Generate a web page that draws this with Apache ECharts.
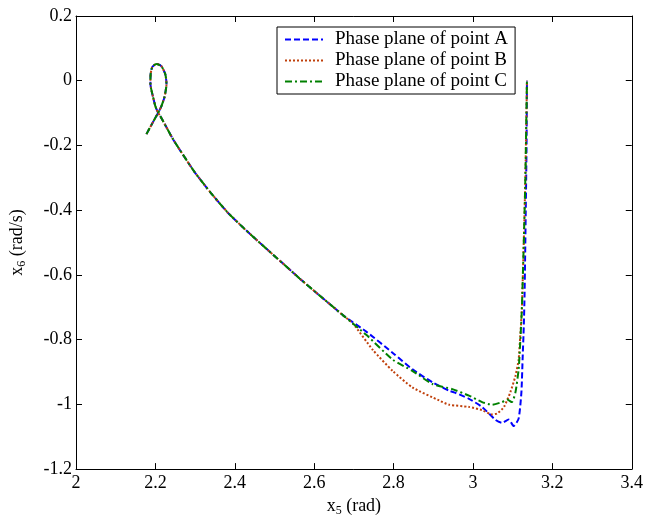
<!DOCTYPE html>
<html>
<head>
<meta charset="utf-8">
<script src="https://cdn.jsdelivr.net/npm/echarts@6/dist/echarts.min.js"></script>
<style>
html, body { margin: 0; padding: 0; background: #fff; }
#main { width: 646px; height: 522px; }
</style>
</head>
<body>
<div id="main"></div>
<script>
// shared part of the trajectory: loop and upper branch (x5, x6)
const trunk = [
  [2.1775, -0.165], [2.192, -0.132], [2.207, -0.099], [2.215, -0.079], [2.223, -0.05],
  [2.228, -0.01], [2.225, 0.02], [2.215, 0.045], [2.2025, 0.052], [2.192, 0.042],
  [2.188, 0.02], [2.1875, -0.01], [2.194, -0.05], [2.2, -0.079], [2.207, -0.099],
  [2.215, -0.115], [2.244, -0.18], [2.257, -0.205], [2.298, -0.281], [2.34, -0.347],
  [2.382, -0.407], [2.423, -0.456], [2.465, -0.503], [2.507, -0.549], [2.548, -0.594],
  [2.565, -0.613], [2.615, -0.665], [2.648, -0.699], [2.673, -0.725]
];
// where the three points differ
const tailA = [
  [2.732, -0.776], [2.798, -0.841], [2.848, -0.892], [2.898, -0.932], [2.94, -0.958],
  [2.957, -0.965], [2.99, -0.983], [3.023, -1.008], [3.057, -1.048], [3.073, -1.057],
  [3.09, -1.047], [3.1025, -1.067], [3.115, -1.044], [3.122, -0.963], [3.125, -0.862],
  [3.128, -0.76], [3.13, -0.66], [3.133, -0.4], [3.135, -0.2], [3.136, 0]
];
const tailB = [
  [2.698, -0.751], [2.748, -0.832], [2.798, -0.897], [2.848, -0.948], [2.915, -0.988],
  [2.94, -1.001], [2.99, -1.008], [3.023, -1.018], [3.048, -1.031], [3.061, -1.028],
  [3.078, -1.008], [3.094, -0.963], [3.107, -0.912], [3.115, -0.862], [3.119, -0.791],
  [3.123, -0.71], [3.128, -0.5], [3.132, -0.3], [3.136, 0]
];
const tailC = [
  [2.732, -0.786], [2.798, -0.862], [2.848, -0.897], [2.898, -0.937], [2.948, -0.953],
  [2.99, -0.973], [3.023, -0.993], [3.048, -1.001], [3.073, -0.993], [3.086, -0.985],
  [3.098, -0.993], [3.107, -0.963], [3.115, -0.892], [3.119, -0.81], [3.123, -0.71],
  [3.128, -0.5], [3.132, -0.3], [3.136, 0]
];
const seriesNames = ['Phase plane of point A', 'Phase plane of point B', 'Phase plane of point C'];

const font = 'Liberation Serif';
const myChart = echarts.init(document.getElementById('main'));

const frameAxis = {
  type: 'value',
  axisLine: { show: true, onZero: false, lineStyle: { color: '#000', width: 1 } },
  axisTick: { show: true, inside: true, length: 6, lineStyle: { color: '#000' } },
  splitLine: { show: false },
  axisLabel: { show: false }
};

const option = {
  animation: false,
  backgroundColor: '#fff',
  grid: { left: 74, right: 12, top: 16, bottom: 43, containLabel: false },
  legend: {
    data: seriesNames,
    orient: 'vertical',
    left: 277,
    top: 27,
    padding: [3, 7, 3, 7],
    itemGap: 2,
    itemWidth: 38,
    itemHeight: 18,
    borderColor: '#000',
    borderWidth: 1,
    backgroundColor: '#fff',
    itemStyle: { opacity: 0 },
    textStyle: { fontFamily: font, fontSize: 19, color: '#000', padding: [0, 0, 0, 7] }
  },
  xAxis: [
    Object.assign({}, frameAxis, {
      min: 2, max: 3.4, interval: 0.2, position: 'bottom',
      axisLabel: { show: true, color: '#000', fontFamily: font, fontSize: 18, margin: 5 },
      name: '{a|x}{s|5}{a| (rad)}',
      nameLocation: 'middle',
      nameGap: 24,
      nameTextStyle: {
        rich: {
          a: { fontFamily: font, fontSize: 18, color: '#000' },
          s: { fontFamily: font, fontSize: 12, color: '#000', padding: [10, 0, 0, 0] }
        }
      }
    }),
    Object.assign({}, frameAxis, { min: 2, max: 3.4, interval: 0.2, position: 'top' })
  ],
  yAxis: [
    Object.assign({}, frameAxis, {
      min: -1.2, max: 0.2, interval: 0.2, position: 'left',
      axisLabel: { show: true, color: '#000', fontFamily: font, fontSize: 18, margin: 4 },
      name: '{a|x}{s|6}{a| (rad/s)}',
      nameLocation: 'middle',
      nameGap: 48,
      nameRotate: 90,
      nameTextStyle: {
        rich: {
          a: { fontFamily: font, fontSize: 18, color: '#000' },
          s: { fontFamily: font, fontSize: 12, color: '#000', padding: [10, 0, 0, 0] }
        }
      }
    }),
    Object.assign({}, frameAxis, { min: -1.2, max: 0.2, interval: 0.2, position: 'right' })
  ],
  series: [
    {
      name: seriesNames[0], type: 'line', symbol: 'none', smooth: 0.2,
      data: trunk.concat(tailA),
      lineStyle: { color: '#0000ff', width: 2, type: [6, 3] },
      itemStyle: { color: '#0000ff' }
    },
    {
      name: seriesNames[1], type: 'line', symbol: 'none', smooth: 0.2,
      data: trunk.concat(tailB),
      lineStyle: { color: '#c0400b', width: 2, type: [2, 2] },
      itemStyle: { color: '#c0400b' }
    },
    {
      name: seriesNames[2], type: 'line', symbol: 'none', smooth: 0.2,
      data: trunk.concat(tailC),
      lineStyle: { color: '#008000', width: 2, type: [7, 3, 2, 3] },
      itemStyle: { color: '#008000' }
    }
  ]
};

myChart.setOption(option);
</script>
</body>
</html>
